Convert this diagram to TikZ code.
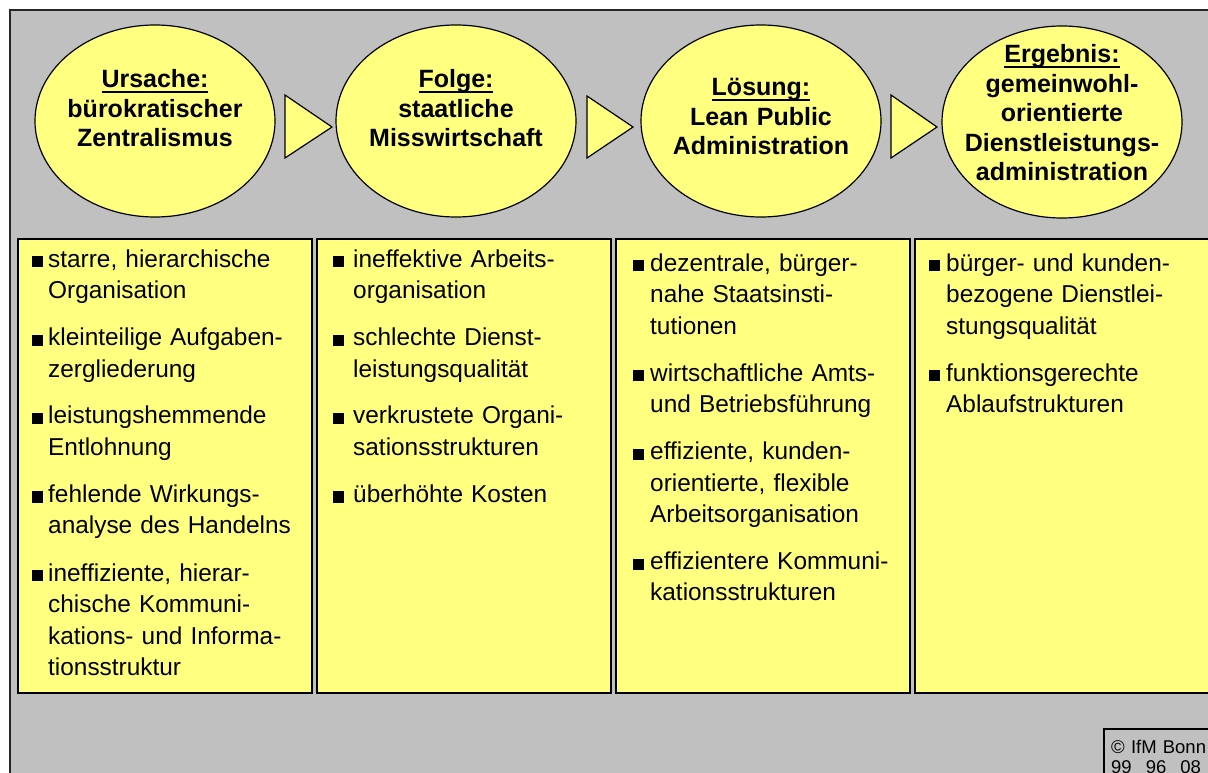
\documentclass[tikz,border=0pt]{standalone}
\usepackage{fontspec}
\setmainfont{Liberation Sans}
\usetikzlibrary{positioning}
\usetikzlibrary{shapes.geometric}
\definecolor{paneGray}{RGB}{192,192,192}
\definecolor{noteYellow}{RGB}{255,255,128}
\newlength{\bgap}
\newsavebox{\headbox}
\newcommand{\bstart}[1]{\setlength{\bgap}{#1}\leftskip=\bgap}
\newcommand{\bfirst}[1]{\noindent\hspace*{-\bgap}\makebox[\bgap][l]{\rule{11pt}{11pt}}#1}
\newcommand{\bitem}[1]{\par\vspace{15.5pt}\bfirst{#1}}
\newcommand{\ulhead}[1]{\sbox{\headbox}{#1}\rlap{\rule[-5pt]{\wd\headbox}{2pt}}\usebox{\headbox}}

\begin{document}
\begin{tikzpicture}[x=1pt, y=-1pt,
    stage/.style={ellipse, draw, line width=1.2pt, fill=noteYellow, minimum width=240pt, minimum height=192pt, inner sep=0pt},
    stagetext/.style={anchor=base, text width=236pt, align=center, inner sep=0pt, font=\fontsize{25}{29.5}\selectfont\bfseries},
    pointer/.style={draw, line width=1.2pt, fill=noteYellow},
    listbox/.style={draw, line width=1.5pt, fill=noteYellow},
    listtext/.style={anchor=base west, text width=285pt, inner sep=0pt, font=\fontsize{24.4}{31.5}\selectfont}]

    \useasboundingbox (0,0) rectangle (1208,773);
    \draw[fill=paneGray, draw=black!85, line width=2pt] (10,10) rectangle (1225,790);

    % stages
    \node[stage] (ursache) at (155,121) {};
    \node[stage] (folge) at (456,121) {};
    \node[stage] (loesung) at (761,121) {};
    \node[stage] (ergebnis) at (1062,122) {};

    \node[stagetext] (ursacheT) at (155,88) {\ulhead{Ursache:}\\ bürokratischer\\ Zentralismus};
    \node[stagetext] (folgeT) at (456,88) {\ulhead{Folge:}\\ staatliche\\ Misswirtschaft};
    \node[stagetext] (loesungT) at (761,96) {\ulhead{Lösung:}\\ Lean Public\\ Administration};
    \node[stagetext] (ergebnisT) at (1062,63) {\ulhead{Ergebnis:}\\ gemeinwohl-\\ orientierte\\ Dienstleistungs-\\ administration};

    \draw[pointer] (285,95) -- (285,158) -- (332,127) -- cycle;
    \draw[pointer] (587,96) -- (587,158) -- (633,127) -- cycle;
    \draw[pointer] (891,95) -- (891,158) -- (937,127) -- cycle;

    % lists
    \draw[listbox] (18,239) rectangle (312,693);
    \draw[listbox] (317,239) rectangle (611,693);
    \draw[listbox] (616,239) rectangle (910,693);
    \draw[listbox] (915,239) rectangle (1225,693);

    \node[listtext] (ursacheL) at (32,267) {\bstart{16pt}%
        \bfirst{starre, hierarchische\\ Organisation}
        \bitem{kleinteilige Aufgaben-\\ zergliederung}
        \bitem{leistungshemmende\\ Entlohnung}
        \bitem{fehlende Wirkungs-\\ analyse des Handelns}
        \bitem{ineffiziente, hierar-\\ chische Kommuni-\\ kations- und Informa-\\ tionsstruktur}\par};
    \node[listtext] (folgeL) at (333,267) {\bstart{20pt}%
        \bfirst{ineffektive Arbeits-\\ organisation}
        \bitem{schlechte Dienst-\\ leistungsqualität}
        \bitem{verkrustete Organi-\\ sationsstrukturen}
        \bitem{überhöhte Kosten}\par};
    \node[listtext] (loesungL) at (633,271) {\bstart{17pt}%
        \bfirst{dezentrale, bürger-\\ nahe Staatsinsti-\\ tutionen}
        \bitem{wirtschaftliche Amts-\\ und Betriebsführung}
        \bitem{effiziente, kunden-\\ orientierte, flexible\\ Arbeitsorganisation}
        \bitem{effizientere Kommuni-\\ kationsstrukturen}\par};
    \node[listtext] (ergebnisL) at (929,271) {\bstart{17pt}%
        \bfirst{bürger- und kunden-\\ bezogene Dienstlei-\\ stungsqualität}
        \bitem{funktionsgerechte\\ Ablaufstrukturen}\par};

    % source note
    \draw[line width=1.2pt] (1104,729) rectangle (1225,790);
    \node[anchor=base west, text width=110pt, inner sep=0pt, font=\fontsize{18.5}{20}\selectfont] (quelle) at (1111,753) {© IfM Bonn\\ 99\hspace{14pt}96\hspace{14pt}08};

\end{tikzpicture}
\end{document}
